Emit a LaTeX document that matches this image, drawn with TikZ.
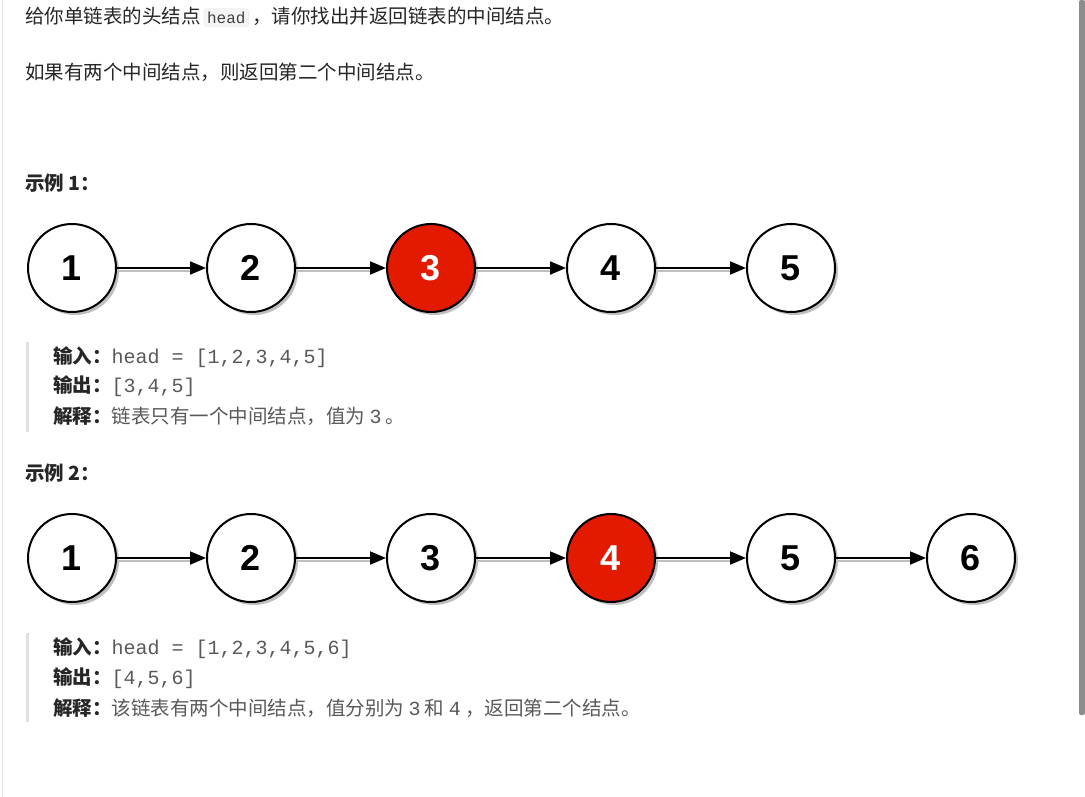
\documentclass[tikz,border=0pt]{standalone}
\usepackage{fontspec}
\setmainfont{Noto Sans CJK SC}
\newfontfamily\cjk{Noto Sans CJK SC}
\newfontfamily\nodefont{Liberation Sans}
\newfontfamily\codefont{Liberation Mono}
\usetikzlibrary{arrows.meta}
\definecolor{txt}{HTML}{262626}
\definecolor{gry}{HTML}{595959}
\definecolor{redn}{HTML}{E11A00}
\newcommand{\cd}[1]{{\codefont\fontsize{20}{20}\selectfont #1}}
\begin{document}
\begin{tikzpicture}[x=1pt,y=-1pt,
  ln/.style={circle,draw=black,line width=2pt,minimum size=88pt,inner sep=0pt,fill=white,
    font=\nodefont\bfseries\fontsize{36}{36}\selectfont},
  hot/.style={ln,fill=redn,text=white},
  link/.style={line width=2pt,-{Triangle[length=16pt,width=13pt]}},
  shd/.style={line width=2pt,draw=black!25},
  body/.style={anchor=west,text=txt,font=\cjk\fontsize{19.5}{22}\selectfont,inner sep=0pt},
  qt/.style={anchor=west,text=gry,font=\cjk\fontsize{19.5}{22}\selectfont,inner sep=0pt},
  bar/.style={line width=3pt,draw=black!12}]
\useasboundingbox (0,0) rectangle (1085,797);
\fill[white] (0,0) rectangle (1085,797);
\draw[black!12,line width=1pt] (2,0) -- (2,797);
\fill[black!45,rounded corners=2pt] (1079,0) rectangle (1085,715);
% top text
\node[body] (t1) at (25,17) {给你单链表的头结点\,\tikz[baseline=(h.base)]\node[fill=black!4,draw=black!10,rounded corners=3pt,inner sep=3pt,text=black!75](h){\codefont\fontsize{16}{16}\selectfont head};\,，请你找出并返回链表的中间结点。};
\node[body] (t2) at (25,72) {如果有两个中间结点，则返回第二个中间结点。};
\node[body,font=\cjk\bfseries\fontsize{19.5}{22}\selectfont] (e1) at (25,183) {示例 1：};
% example 1
\foreach \x in {72,251,431,611,791}{
  \fill[black!25] (\x+3,271) circle (44pt);
}
\node[ln] (a1) at (72,268) {1};
\node[ln] (a2) at (251,268) {2};
\node[hot] (a3) at (431,268) {3};
\node[ln] (a4) at (611,268) {4};
\node[ln] (a5) at (791,268) {5};
\foreach \p/\q in {a1/a2,a2/a3,a3/a4,a4/a5}{
  \draw[shd,transform canvas={yshift=-2.5pt}] (\p) -- ([xshift=-14pt]\q.west);
  \draw[link] (\p) -- (\q);
}
\draw[bar] (27,342) -- (27,432);
\node[qt] (q1) at (53,357) {\textbf{\color{txt}输入：}\cd{head = [1,2,3,4,5]}};
\node[qt] (q2) at (53,386) {\textbf{\color{txt}输出：}\cd{[3,4,5]}};
\node[qt] (q3) at (53,416) {\textbf{\color{txt}解释：}链表只有一个中间结点，值为 \cd{3} 。};
\node[body,font=\cjk\bfseries\fontsize{19.5}{22}\selectfont] (e2) at (25,473) {示例 2：};
% example 2
\foreach \x in {72,251,431,611,791,971}{
  \fill[black!25] (\x+3,561) circle (44pt);
}
\node[ln] (b1) at (72,558) {1};
\node[ln] (b2) at (251,558) {2};
\node[ln] (b3) at (431,558) {3};
\node[hot] (b4) at (611,558) {4};
\node[ln] (b5) at (791,558) {5};
\node[ln] (b6) at (971,558) {6};
\foreach \p/\q in {b1/b2,b2/b3,b3/b4,b4/b5,b5/b6}{
  \draw[shd,transform canvas={yshift=-2.5pt}] (\p) -- ([xshift=-14pt]\q.west);
  \draw[link] (\p) -- (\q);
}
\draw[bar] (27,633) -- (27,722);
\node[qt] (r1) at (53,648) {\textbf{\color{txt}输入：}\cd{head = [1,2,3,4,5,6]}};
\node[qt] (r2) at (53,678) {\textbf{\color{txt}输出：}\cd{[4,5,6]}};
\node[qt] (r3) at (53,708) {\textbf{\color{txt}解释：}该链表有两个中间结点，值分别为 \cd{3} 和 \cd{4} ，返回第二个结点。};
\end{tikzpicture}
\end{document}
